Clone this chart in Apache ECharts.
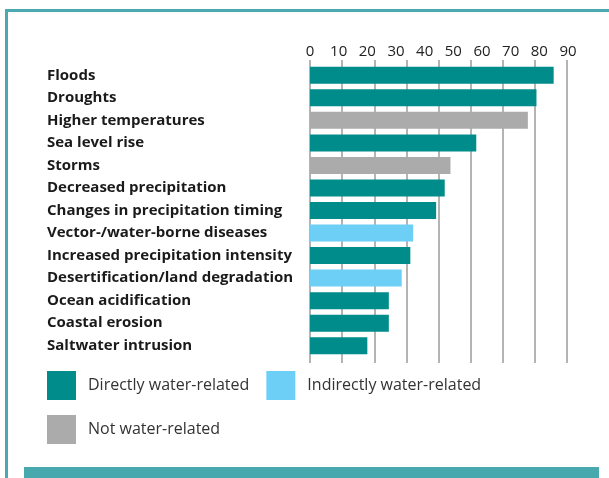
<!DOCTYPE html>
<html>
<head>
<meta charset="utf-8">
<script src="https://cdn.jsdelivr.net/npm/echarts@6/dist/echarts.min.js"></script>
<style>
  html, body { margin: 0; padding: 0; background: #fff; }
  #chart { width: 609px; height: 478px; }
</style>
</head>
<body>
<div id="chart"></div>
<script>
// 类别（从上到下）
var categories = [
  'Floods', 'Droughts', 'Higher temperatures', 'Sea level rise', 'Storms',
  'Decreased precipitation', 'Changes in precipitation timing',
  'Vector-/water-borne diseases', 'Increased precipitation intensity',
  'Desertification/land degradation', 'Ocean acidification',
  'Coastal erosion', 'Saltwater intrusion'
];
var values = [85, 79, 76, 58, 49, 47, 44, 36, 35, 32, 27.5, 27.5, 20];
// D = directly, I = indirectly, N = not water-related
var groups = ['D', 'D', 'N', 'D', 'N', 'D', 'D', 'I', 'D', 'I', 'D', 'D', 'D'];
var tickMax = 90;   // labels 0..90
var gridMax = 80;   // grid lines drawn 0..80 (as in the picture)

var seriesNames = {
  D: 'Directly water-related',
  I: 'Indirectly water-related',
  N: 'Not water-related'
};
var colors = { D: '#008c8a', I: '#6dcff6', N: '#ababab' };

function pick(g) {
  return values.map(function (v, i) { return groups[i] === g ? v : null; });
}

var chart = echarts.init(document.getElementById('chart'));
var font = '"Open Sans", sans-serif';

chart.setOption({
  animation: false,
  textStyle: { fontFamily: font },
  graphic: [
    { type: 'rect', shape: { x: 5, y: 9, width: 604, height: 3 }, style: { fill: '#4aaab0' } },
    { type: 'rect', shape: { x: 5, y: 9, width: 3, height: 469 }, style: { fill: '#4aaab0' } },
    { type: 'rect', shape: { x: 24, y: 467, width: 575, height: 11 }, style: { fill: '#47a8ad' } }
  ],
  grid: [
    { left: 310, right: 41, top: 64, height: 293, containLabel: false },
    { left: 310, right: 42, top: 60, bottom: 115, containLabel: false }
  ],
  legend: [
    {
      data: [seriesNames.D, seriesNames.I],
      left: 47, top: 371, padding: 0,
      itemWidth: 29, itemHeight: 29, itemGap: 17,
      icon: 'rect',
      textStyle: { fontSize: 16, color: '#333', fontFamily: font, padding: [0, 0, 0, 7] }
    },
    {
      data: [seriesNames.N],
      left: 47, top: 415, padding: 0,
      itemWidth: 29, itemHeight: 29,
      icon: 'rect',
      textStyle: { fontSize: 16, color: '#333', fontFamily: font, padding: [0, 0, 0, 7] }
    }
  ],
  xAxis: [
    {
      gridIndex: 0, type: 'value', position: 'top',
      min: 0, max: tickMax, interval: 10,
      axisLine: { show: false }, axisTick: { show: false },
      splitLine: { show: false },
      axisLabel: { fontSize: 15, color: '#222', margin: 5, fontFamily: font }
    },
    {
      gridIndex: 1, type: 'value', position: 'top',
      min: 0, max: gridMax, interval: 10,
      axisLine: { show: false }, axisTick: { show: false },
      axisLabel: { show: false },
      splitLine: { show: true, lineStyle: { color: '#b4b4b4', width: 2 } }
    }
  ],
  yAxis: [
    {
      gridIndex: 0, type: 'category', data: categories, inverse: true,
      axisLine: { show: false }, axisTick: { show: false },
      axisLabel: {
        align: 'left', margin: 263, fontSize: 15, fontWeight: 'bold',
        color: '#1a1a1a', fontFamily: font, padding: [5, 0, 0, 0]
      }
    },
    {
      gridIndex: 1, type: 'category', data: categories,
      show: false
    }
  ],
  series: ['D', 'I', 'N'].map(function (g) {
    return {
      name: seriesNames[g],
      type: 'bar',
      stack: 'all',
      xAxisIndex: 0, yAxisIndex: 0,
      barWidth: 17,
      itemStyle: { color: colors[g] },
      data: pick(g)
    };
  })
});
</script>
</body>
</html>
